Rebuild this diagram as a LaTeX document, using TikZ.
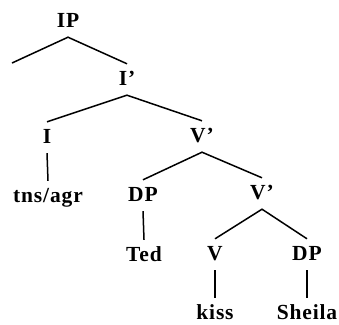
\documentclass[tikz,border=0pt]{standalone}
\usepackage{fontspec}
\setmainfont[LetterSpace=4]{Liberation Serif}
\begin{document}
\begin{tikzpicture}[x=1pt,y=-1pt,
  lab/.style={anchor=base, font=\fontsize{21.5}{25}\selectfont\bfseries, text height=14pt, text depth=3pt, inner xsep=0pt, inner ysep=7pt},
  br/.style={line width=1.5pt}]
\useasboundingbox (0,0) rectangle (339,324);
\node[lab] (IP) at (68,27) {IP};
\coordinate (IPleft) at (12,63);
\node[lab] (I1) at (127,85) {I'};
\node[lab] (I) at (47,143) {I};
\node[lab] (tns) at (48,202) {tns/agr};
\node[lab] (V1) at (202,142) {V'};
\node[lab] (DP1) at (143,201) {DP};
\node[lab] (Ted) at (144,261) {Ted};
\node[lab] (V2) at (262,199) {V'};
\node[lab] (V) at (215,260) {V};
\node[lab] (DP2) at (307,260) {DP};
\node[lab] (kiss) at (215,319) {kiss};
\node[lab] (Sheila) at (307,319) {Sheila};
\draw[br] (IPleft) -- (IP.south) -- (I1.north);
\draw[br] (I.north) -- (I1.south) -- (V1.north);
\draw[br] (I.south) -- (tns.north);
\draw[br] (DP1.north) -- (V1.south) -- (V2.north);
\draw[br] (DP1.south) -- (Ted.north);
\draw[br] (V.north) -- (V2.south) -- (DP2.north);
\draw[br] (V.south) -- (kiss.north);
\draw[br] (DP2.south) -- (Sheila.north);
\end{tikzpicture}
\end{document}
